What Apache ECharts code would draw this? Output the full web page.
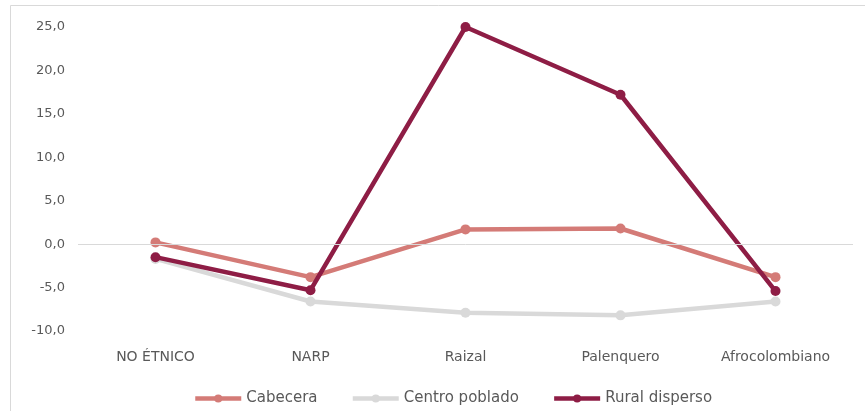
<!DOCTYPE html>
<html><head><meta charset="utf-8">
<script src="https://cdn.jsdelivr.net/npm/echarts@6/dist/echarts.min.js"></script>
<style>html,body{margin:0;padding:0;background:#fff}#c{width:865px;height:411px}</style>
</head><body><div id="c"></div>
<script>
const categories = ['NO ÉTNICO', 'NARP', 'Raizal', 'Palenquero', 'Afrocolombiano'];
const cabecera = [0.2, -3.8, 1.7, 1.8, -3.8];
const centroPoblado = [-1.7, -6.6, -7.9, -8.2, -6.6];
const ruralDisperso = [-1.5, -5.3, 25.0, 17.2, -5.4];
const seriesNames = ['Cabecera', 'Centro poblado', 'Rural disperso'];
const colors = ['#d47b77', '#d9d9d9', '#8e1d45'];
const font = '"DejaVu Sans", Roboto, sans-serif';

const chart = echarts.init(document.getElementById('c'), null, {renderer: 'canvas'});
const mk = (name, data, color, z) => ({
  name, type: 'line', data, z,
  symbol: 'circle', symbolSize: 10,
  lineStyle: {width: 4.5, color},
  itemStyle: {color},
  emphasis: {disabled: true},
  animation: false
});
chart.setOption({
  animation: false,
  textStyle: {fontFamily: font},
  graphic: [{type: 'rect', silent: true, shape: {x: 10.5, y: 5.5, width: 900, height: 500},
    style: {fill: 'none', stroke: '#d9d9d9', lineWidth: 1}}],
  grid: {left: 78, right: 12, top: 27, bottom: 80, containLabel: false},
  legend: {
    top: 386, left: 188, itemWidth: 46, itemHeight: 10, itemGap: 33,
    lineStyle: {width: 4.5},
    textStyle: {color: '#595959', fontSize: 15, fontFamily: font},
    data: seriesNames
  },
  xAxis: {
    type: 'category', data: categories, boundaryGap: true,
    axisLine: {show: false}, axisTick: {show: false},
    axisLabel: {color: '#595959', fontSize: 14, margin: 19, fontFamily: font}
  },
  yAxis: {
    type: 'value', min: -10, max: 25, interval: 5,
    splitLine: {show: false}, axisLine: {show: false}, axisTick: {show: false},
    axisLabel: {color: '#595959', fontSize: 13, margin: 13, fontFamily: font,
      formatter: v => v.toFixed(1).replace('.', ',')}
  },
  series: [
    mk(seriesNames[1], centroPoblado, colors[1], 2),
    mk(seriesNames[0], cabecera, colors[0], 3),
    mk(seriesNames[2], ruralDisperso, colors[2], 4),
    {type: 'line', data: [], markLine: {silent: true, symbol: 'none', label: {show: false},
      lineStyle: {color: '#d9d9d9', width: 1, type: 'solid'}, data: [{yAxis: 0}]}, z: 1}
  ]
});
</script></body></html>
